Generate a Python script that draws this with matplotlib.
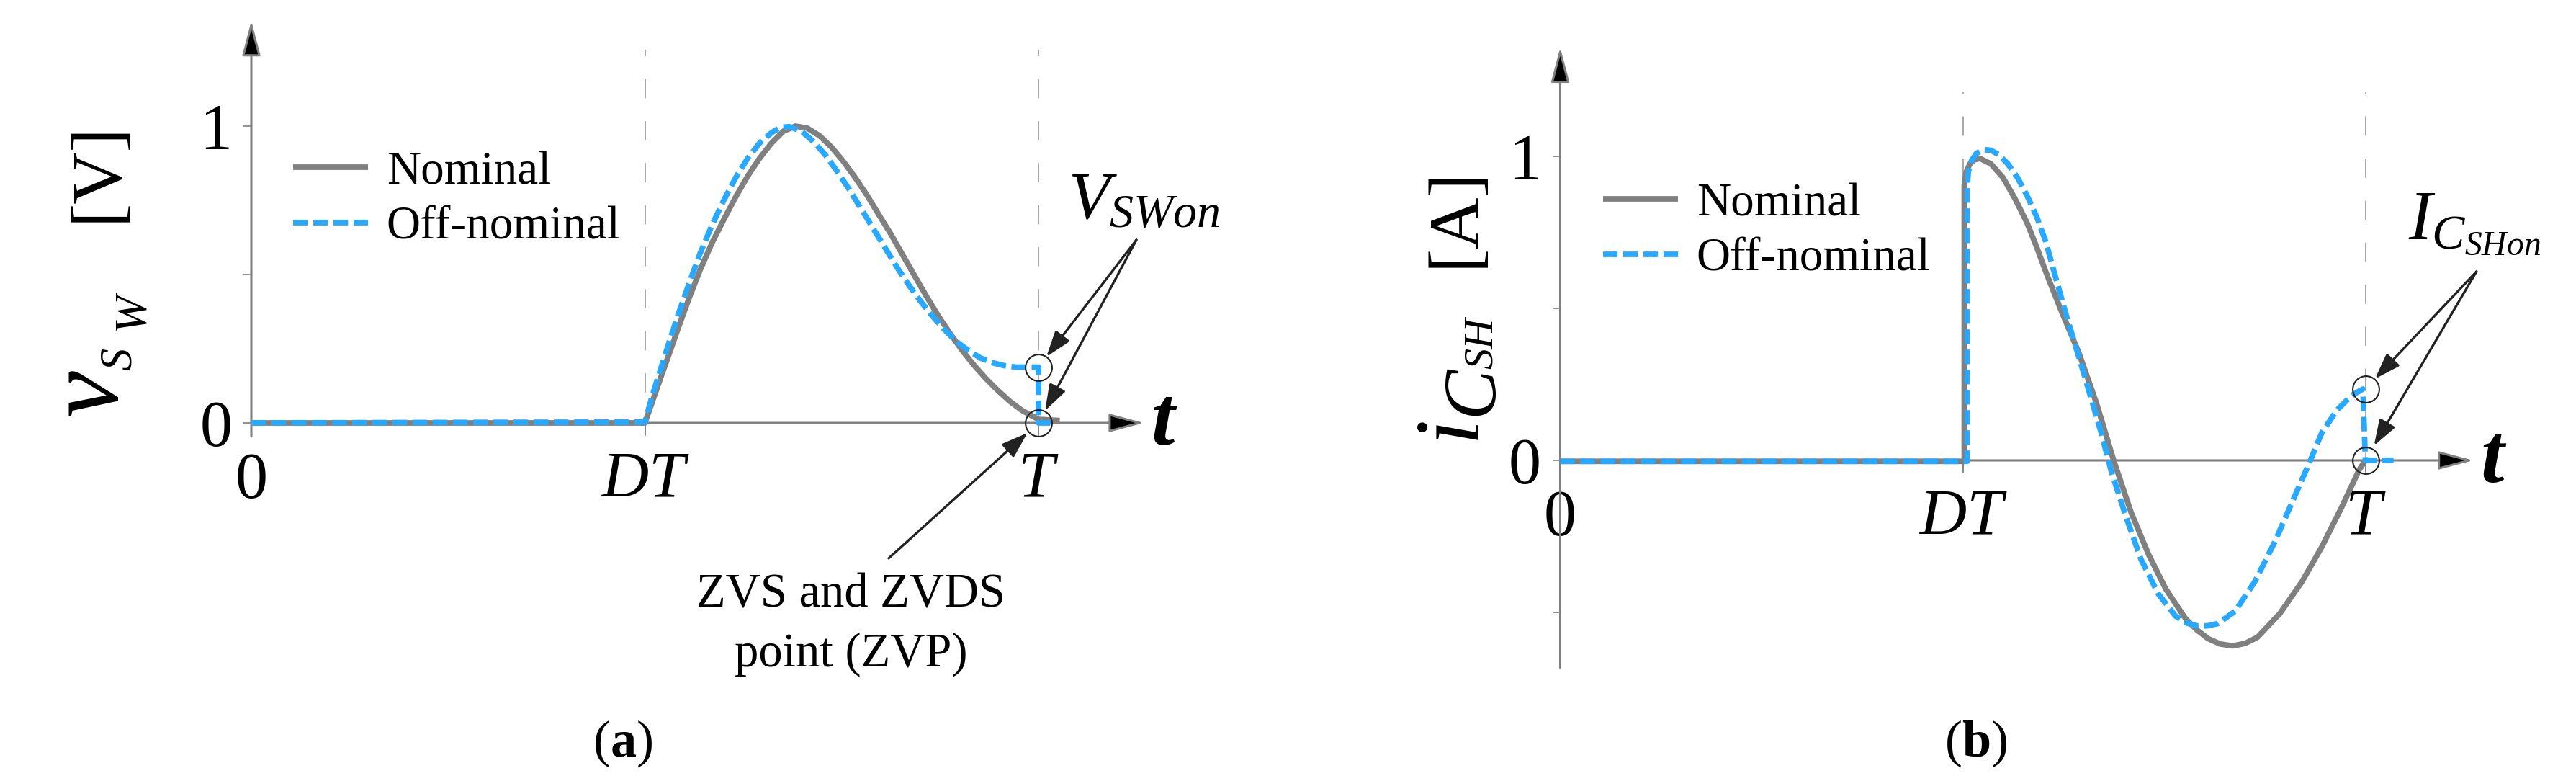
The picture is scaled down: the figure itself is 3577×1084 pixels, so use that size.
import numpy as np
import matplotlib
matplotlib.use('Agg')
import matplotlib.pyplot as plt

plt.rcParams['font.family'] = 'Liberation Serif'
plt.rcParams['mathtext.fontset'] = 'custom'
plt.rcParams['mathtext.rm'] = 'Liberation Serif'
plt.rcParams['mathtext.it'] = 'Liberation Serif:italic'
plt.rcParams['mathtext.bf'] = 'Liberation Serif:bold'

GREY = '#808080'
BLUE = '#29A8FF'
INK = '#222222'

# ---- data (t in units of T) ----
series_names = ['Nominal', 'Off-nominal']
t_ticks = [0, 0.5, 1.0]
t_labels = ['0', '$DT$', '$T$']

# (a) switch voltage
nom_a_t = [0, 0.5, 0.5095, 0.5208, 0.5322, 0.5436, 0.5568, 0.5701, 0.5852, 0.6004, 0.6155,
           0.6307, 0.6458, 0.661, 0.6761, 0.6913, 0.7064, 0.7216, 0.7367, 0.7519, 0.767,
           0.7822, 0.7973, 0.8125, 0.8277, 0.8428, 0.858, 0.8731, 0.8883, 0.9034, 0.9186,
           0.9337, 0.9489, 0.964, 0.9792, 0.9943, 1.0, 1.027]
nom_a_v = [0, 0, 0.072, 0.158, 0.243, 0.329, 0.425, 0.515, 0.606, 0.686, 0.762,
           0.832, 0.892, 0.943, 0.983, 1.0, 0.993, 0.968, 0.93, 0.882, 0.827,
           0.767, 0.701, 0.636, 0.565, 0.495, 0.425, 0.359, 0.299, 0.243, 0.193,
           0.148, 0.108, 0.072, 0.042, 0.02, 0.012, 0.008]
off_a_t = [0, 0.5, 0.5095, 0.5208, 0.5322, 0.5436, 0.5568, 0.5701, 0.5852, 0.6004, 0.6155,
           0.6307, 0.6458, 0.661, 0.6723, 0.6837, 0.6989, 0.714, 0.7292, 0.7443, 0.7595,
           0.7746, 0.7898, 0.8049, 0.8201, 0.8352, 0.8504, 0.8655, 0.8807, 0.8958, 0.911,
           0.9261, 0.9413, 0.9564, 0.9716, 0.9867, 1.0, 1.0, 1.015]
off_a_v = [0, 0.003, 0.093, 0.188, 0.284, 0.375, 0.475, 0.571, 0.666, 0.751, 0.827,
           0.892, 0.943, 0.978, 0.996, 0.998, 0.983, 0.948, 0.903, 0.847, 0.787,
           0.722, 0.656, 0.591, 0.525, 0.465, 0.409, 0.359, 0.314, 0.274, 0.244,
           0.219, 0.203, 0.193, 0.188, 0.188, 0.188, 0.0, 0.0]

# (b) shunt capacitor current
nom_b_t = [0, 0.5018, 0.5018, 0.5041, 0.5087, 0.5146, 0.5215, 0.535, 0.55, 0.565, 0.58,
           0.592, 0.604, 0.6226, 0.644, 0.6658, 0.6874, 0.7089, 0.7305, 0.752, 0.7767,
           0.7905, 0.8044, 0.8198, 0.8351, 0.8506, 0.866, 0.8937, 0.9215, 0.946, 0.9708,
           0.9923, 1.0]
nom_b_v = [-0.003, -0.003, 0.904, 0.947, 0.975, 0.989, 0.993, 0.975, 0.93, 0.86, 0.78,
           0.70, 0.614, 0.49, 0.355, 0.19, 0.0, -0.17, -0.308, -0.4225, -0.5206,
           -0.557, -0.5858, -0.604, -0.61, -0.602, -0.5817, -0.504, -0.398, -0.284, -0.153,
           -0.031, 0.0]
off_b_t = [0, 0.5055, 0.5055, 0.5068, 0.511, 0.517, 0.526, 0.535, 0.545, 0.556, 0.568,
           0.58, 0.592, 0.603, 0.6134, 0.6288, 0.6504, 0.672, 0.6843, 0.7028, 0.7212,
           0.7428, 0.7643, 0.778, 0.792, 0.8045, 0.8167, 0.8383, 0.8629, 0.8876, 0.9091,
           0.9307, 0.946, 0.9646, 0.9831, 0.9969, 1.0, 1.035]
off_b_v = [-0.003, -0.003, 0.898, 0.947, 0.987, 1.01, 1.022, 1.02, 1.005, 0.975, 0.93,
           0.87, 0.80, 0.72, 0.62, 0.475, 0.285, 0.09, -0.035, -0.186, -0.3246,
           -0.4389, -0.5123, -0.535, -0.545, -0.544, -0.5367, -0.496, -0.398, -0.2676, -0.137,
           -0.0064, 0.0915, 0.165, 0.214, 0.2346, 0.0, 0.0]

W, H = 3577, 1084
fig = plt.figure(figsize=(W / 100, H / 100), dpi=100)


def fpx(x, y):
    return x / W, 1 - y / H


def panel(x0, y0, sx, sy, xlim, ylim):
    ax = fig.add_axes([(x0 + xlim[0] * sx) / W, 1 - (y0 - ylim[0] * sy) / H,
                       (xlim[1] - xlim[0]) * sx / W, (ylim[1] - ylim[0]) * sy / H])
    ax.set_xlim(xlim)
    ax.set_ylim(ylim)
    ax.patch.set_visible(False)
    for s in ['top', 'right']:
        ax.spines[s].set_visible(False)
    for s in ['left', 'bottom']:
        ax.spines[s].set_position(('data', 0))
        ax.spines[s].set_visible(False)
    return ax


def dress(ax, yticks, ylabels, y_lo, y_hi, dash_top, leg_top):
    arrow = dict(arrowstyle='-|>,head_length=30,head_width=8', mutation_scale=1,
                 lw=2.2, ec=GREY, fc='black', shrinkA=0, shrinkB=0)
    ax.annotate('', xy=(1.134, 0), xytext=(0, 0), arrowprops=arrow)
    ax.annotate('', xy=(0, y_hi), xytext=(0, y_lo), arrowprops=arrow)
    ax.vlines(t_ticks[1:], -0.038, dash_top, colors='#9a9a9a', lw=1.2,
              linestyles=(0, (16, 19)), zorder=1)
    ax.set_xticks(t_ticks, labels=t_labels)
    ax.set_yticks(yticks, labels=ylabels)
    ax.tick_params(axis='x', length=13, width=1.2, color=GREY, labelsize=65, pad=16)
    ax.tick_params(axis='y', length=8, width=1.2, color=GREY, labelsize=65, pad=11)
    ax.text(1.143, 0, 't', fontsize=84, fontweight='bold', fontstyle='italic',
            ha='left', va='baseline',
            transform=ax.transData + matplotlib.transforms.ScaledTranslation(0, -30 / 100, fig.dpi_scale_trans))
    ax.legend(loc='upper left', bbox_to_anchor=(0.053, leg_top), bbox_transform=ax.transData,
              frameon=False, fontsize=47, handlelength=1.59, handletextpad=0.4,
              labelspacing=0.26, borderpad=0, borderaxespad=0)


def curves(ax, nt, nv, ot, ov):
    ax.plot(nt, nv, color=GREY, lw=5.6, label=series_names[0], solid_capstyle='butt', clip_on=False, zorder=3)
    ax.plot(ot, ov, color=BLUE, lw=5.6, ls=(0, (2.6, 1.0)), label=series_names[1], clip_on=False, zorder=4)


def callout(ax, label, lx, ly, src, points, shrinks, fs):
    ax.text(lx, ly, label, fontsize=fs, ha='left', va='baseline')
    for (px, py), sb in zip(points, shrinks):
        ax.plot(px, py, 'o', ms=26.5, mfc='none', mec=INK, mew=1.5, clip_on=False, zorder=5)
        ax.annotate('', xy=(px, py), xytext=src,
                    arrowprops=dict(arrowstyle='-|>,head_length=22,head_width=7.5', mutation_scale=1,
                                    lw=2.4, color=INK, shrinkA=0, shrinkB=sb))


# ---- panel (a) ----
ax1 = panel(349, 587, 1093, 412, (-0.25, 1.35), (-0.3, 1.4))
curves(ax1, nom_a_t, nom_a_v, off_a_t, off_a_v)
dress(ax1, [0, 0.5, 1], ['0', '', '1'], -0.046, 1.354, 1.257, 0.9165)
off_a = np.array(off_a_v)
vsw_on = off_a[np.array(off_a_t) == 1.0].max()
callout(ax1, r'$V_{SWon}$', 1.0375, 0.689, (1.1244, 0.6165),
        [(1.0, vsw_on), (1.0, 0.0)], [13, 14], 68)
ax1.annotate('', xy=(1.0, 0.0), xytext=(0.8097, -0.456),
             arrowprops=dict(arrowstyle='-|>,head_length=22,head_width=7.5', mutation_scale=1,
                             lw=2.4, color=INK, shrinkA=0, shrinkB=15))
# baseline given for the last line
ax1.text(0.762, -0.82, 'ZVS and ZVDS\npoint (ZVP)', fontsize=48, ha='center', va='baseline',
         multialignment='center', linespacing=1.45)

# y label pieces (a)
rot = dict(rotation=90, rotation_mode='anchor', ha='left', va='baseline')
fig.text(*fpx(162, 577), 'v', fontsize=105, fontstyle='italic', **rot)
fig.text(*fpx(182, 514), 'S', fontsize=45, fontstyle='italic', **rot)
fig.text(*fpx(199, 458), 'W', fontsize=45, fontstyle='italic', **rot)
fig.text(*fpx(162, 308), '[V]', fontsize=72, **rot)
fig.text(*fpx(865, 1050), r'($\mathbf{a}$)', fontsize=52, ha='center', va='baseline')

# ---- panel (b) ----
ax2 = panel(2166.5, 639, 1118, 422, (-0.2, 1.25), (-0.75, 1.45))
curves(ax2, nom_b_t, nom_b_v, off_b_t, off_b_v)
dress(ax2, [-0.5, 0, 0.5, 1], ['', '0', '', '1'], -0.682, 1.358, 1.21, 0.9137)
off_b = np.array(off_b_v)
ich_on = off_b[np.array(off_b_t) >= 0.99].max()
callout(ax2, r'$I_{C_{SHon}}$', 1.053, 0.7275, (1.138, 0.621),
        [(1.0, ich_on), (1.0, 0.0)], [14, 17], 70)

fig.text(*fpx(2047, 610), 'i', fontsize=92, fontstyle='italic', **rot)
fig.text(*fpx(2071, 577), 'C', fontsize=75, fontstyle='italic', **rot)
fig.text(*fpx(2072, 512), 'SH', fontsize=42, fontstyle='italic', **rot)
fig.text(*fpx(2047, 371), '[A]', fontsize=72, **rot)
fig.text(*fpx(2744, 1050), r'($\mathbf{b}$)', fontsize=52, ha='center', va='baseline')

fig.savefig('out.png', dpi=100, facecolor='white')
